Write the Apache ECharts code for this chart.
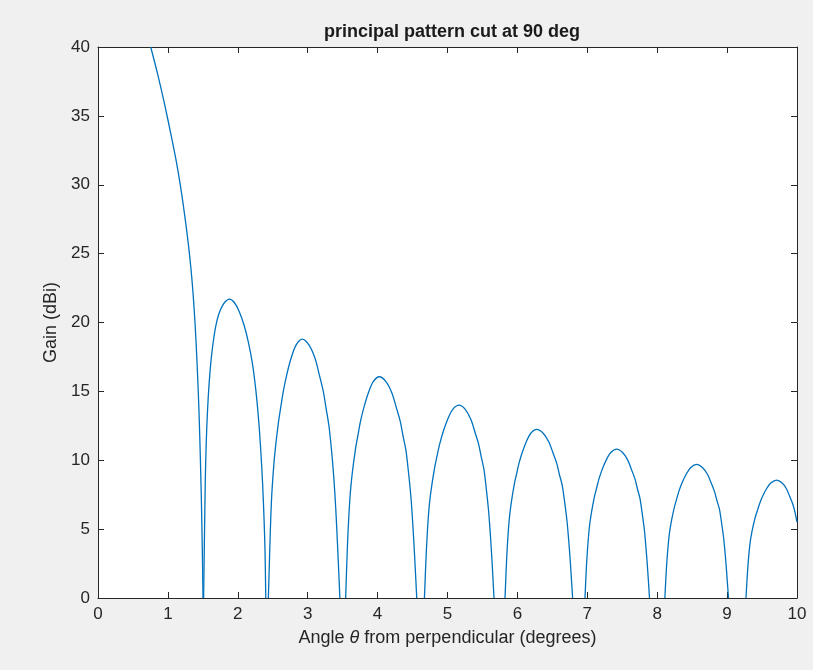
<!DOCTYPE html>
<html>
<head>
<meta charset="utf-8">
<title>principal pattern cut at 90 deg</title>
<script src="https://cdn.jsdelivr.net/npm/echarts@6/dist/echarts.min.js"></script>
<style>
  html, body { margin: 0; padding: 0; background: #f0f0f0; }
  #chart { width: 813px; height: 670px; }
</style>
</head>
<body>
<div id="chart"></div>
<script>
// angle (deg), gain (dBi), one array per lobe
const mainLobe = [
  [0.754, 40], [0.85, 38.1], [0.95, 35.9], [1.05, 33.5], [1.12, 31.7],
  [1.18, 29.9], [1.24, 27.8], [1.29, 25.8], [1.33, 23.9], [1.36, 22.1],
  [1.39, 19.8], [1.415, 17.3], [1.435, 14.9], [1.45, 12.7], [1.463, 10.4],
  [1.474, 8.2], [1.483, 6.1], [1.491, 3.9], [1.497, 2.0], [1.502, 0]
];
const lobe1 = [
  [1.511, 0], [1.521, 3.7], [1.535, 8.56], [1.548, 11.2], [1.565, 13.4],
  [1.59, 15.6], [1.62, 17.4], [1.66, 19.0], [1.70, 20.1], [1.75, 20.9],
  [1.81, 21.45], [1.88, 21.7], [1.95, 21.45], [2.02, 20.8], [2.09, 19.8],
  [2.15, 18.6], [2.21, 17.0], [2.26, 15.0], [2.30, 12.8], [2.33, 10.6],
  [2.355, 8.3], [2.375, 5.8], [2.39, 3.3], [2.40, 0]
];
const lobe2 = [
  [2.437, 0], [2.450, 2.2], [2.465, 4.8], [2.48, 6.9], [2.499, 8.56],
  [2.53, 10.5], [2.58, 12.7], [2.613, 13.8], [2.651, 15.0], [2.70, 16.2],
  [2.762, 17.4], [2.833, 18.36], [2.923, 18.8], [3.02, 18.36], [3.105, 17.4],
  [3.166, 16.2], [3.223, 15.0], [3.262, 13.8], [3.305, 12.45], [3.345, 10.5],
  [3.376, 8.56], [3.40, 6.6], [3.42, 4.6], [3.438, 2.6], [3.452, 1.0], [3.46, 0]
];
const lobe3 = [
  [3.543, 0], [3.571, 4.10], [3.605, 7.31], [3.635, 8.96], [3.685, 10.86],
  [3.718, 11.79], [3.755, 12.82], [3.804, 13.84], [3.866, 14.87], [3.936, 15.69],
  [4.025, 16.06], [4.122, 15.69], [4.206, 14.87], [4.267, 13.84], [4.324, 12.82],
  [4.363, 11.79], [4.405, 10.73], [4.446, 8.93], [4.477, 7.31], [4.500, 5.64],
  [4.520, 3.93], [4.538, 2.22], [4.56, 0]
];
const lobe4 = [
  [4.67, 0], [4.699, 3.57], [4.733, 6.37], [4.765, 7.81], [4.816, 9.46],
  [4.849, 10.28], [4.888, 11.17], [4.938, 12.07], [5.001, 12.96], [5.073, 13.68],
  [5.165, 14.0], [5.256, 13.68], [5.335, 12.96], [5.391, 12.07], [5.445, 11.17],
  [5.481, 10.28], [5.521, 9.35], [5.558, 7.78], [5.587, 6.37], [5.609, 4.91],
  [5.628, 3.43], [5.645, 1.93], [5.665, 0]
];
const lobe5 = [
  [5.823, 0], [5.849, 3.12], [5.881, 5.57], [5.910, 6.83], [5.956, 8.27],
  [5.987, 8.98], [6.022, 9.77], [6.068, 10.55], [6.126, 11.33], [6.192, 11.96],
  [6.276, 12.24], [6.369, 11.96], [6.450, 11.33], [6.508, 10.55], [6.563, 9.77],
  [6.600, 8.98], [6.641, 8.18], [6.680, 6.81], [6.710, 5.57], [6.732, 4.30],
  [6.752, 3.00], [6.769, 1.69], [6.79, 0]
];
const lobe6 = [
  [6.967, 0], [6.993, 2.76], [7.025, 4.92], [7.054, 6.03], [7.100, 7.31],
  [7.131, 7.93], [7.166, 8.63], [7.212, 9.32], [7.270, 10.01], [7.336, 10.56],
  [7.42, 10.81], [7.505, 10.56], [7.579, 10.01], [7.632, 9.32], [7.683, 8.63],
  [7.717, 7.93], [7.754, 7.22], [7.789, 6.01], [7.817, 4.92], [7.837, 3.79],
  [7.855, 2.65], [7.871, 1.49], [7.89, 0]
];
const lobe7 = [
  [8.11, 0], [8.136, 2.47], [8.168, 4.41], [8.197, 5.41], [8.244, 6.56],
  [8.275, 7.12], [8.310, 7.74], [8.356, 8.36], [8.414, 8.98], [8.481, 9.48],
  [8.565, 9.70], [8.647, 9.48], [8.719, 8.98], [8.771, 8.36], [8.819, 7.74],
  [8.852, 7.12], [8.889, 6.48], [8.923, 5.39], [8.949, 4.41], [8.969, 3.40],
  [8.986, 2.38], [9.001, 1.34], [9.02, 0]
];
const lobe8 = [
  [9.27, 0], [9.296, 2.18], [9.326, 3.89], [9.354, 4.78], [9.399, 5.79],
  [9.429, 6.28], [9.464, 6.83], [9.508, 7.38], [9.564, 7.93], [9.629, 8.36],
  [9.71, 8.56], [9.784, 8.36], [9.849, 7.93], [9.895, 7.38], [9.939, 6.83],
  [9.969, 6.28], [10.0, 5.5]
];
const lobes = [mainLobe, lobe1, lobe2, lobe3, lobe4, lobe5, lobe6, lobe7, lobe8];

const font = '"Liberation Sans", Arial, Helvetica, sans-serif';
const ink = '#262626';

const chart = echarts.init(document.getElementById('chart'), null, { renderer: 'canvas' });

function axisStyle(showLabel) {
  return {
    axisLine: { show: true, onZero: false, lineStyle: { color: ink, width: 1 } },
    axisTick: { show: true, inside: true, length: 6, lineStyle: { color: ink, width: 1 } },
    axisLabel: { show: showLabel, color: ink, fontSize: 17, fontFamily: font, margin: 8 },
    splitLine: { show: false }
  };
}

chart.setOption({
  animation: false,
  backgroundColor: '#f0f0f0',
  title: {
    text: 'principal pattern cut at 90 deg',
    left: 447,
    top: 18,
    textAlign: 'center',
    textStyle: { color: '#1a1a1a', fontSize: 18, fontWeight: 'bold', fontFamily: font }
  },
  grid: {
    left: 98, right: 16, top: 47, bottom: 72,
    show: true, backgroundColor: '#ffffff', borderWidth: 0
  },
  xAxis: [
    Object.assign({
      type: 'value', min: 0, max: 10, interval: 1, position: 'bottom',
      name: 'Angle {i|θ} from perpendicular (degrees)',
      nameLocation: 'middle', nameGap: 31,
      nameTextStyle: {
        color: ink, fontSize: 18, fontFamily: font,
        rich: { i: { fontStyle: 'italic', fontSize: 18, fontFamily: font, color: ink } }
      }
    }, axisStyle(true)),
    Object.assign({ type: 'value', min: 0, max: 10, interval: 1, position: 'top' }, axisStyle(false))
  ],
  yAxis: [
    Object.assign({
      type: 'value', min: 0, max: 40, interval: 5, position: 'left',
      name: 'Gain (dBi)', nameLocation: 'middle', nameGap: 38,
      nameTextStyle: { color: ink, fontSize: 18, fontFamily: font }
    }, axisStyle(true)),
    Object.assign({ type: 'value', min: 0, max: 40, interval: 5, position: 'right' }, axisStyle(false))
  ],
  series: lobes.map(d => ({
    type: 'line',
    data: d,
    showSymbol: false,
    symbol: 'none',
    smooth: 0.3,
    clip: true,
    silent: true,
    lineStyle: { color: '#0072BD', width: 1.3 }
  }))
});
</script>
</body>
</html>
